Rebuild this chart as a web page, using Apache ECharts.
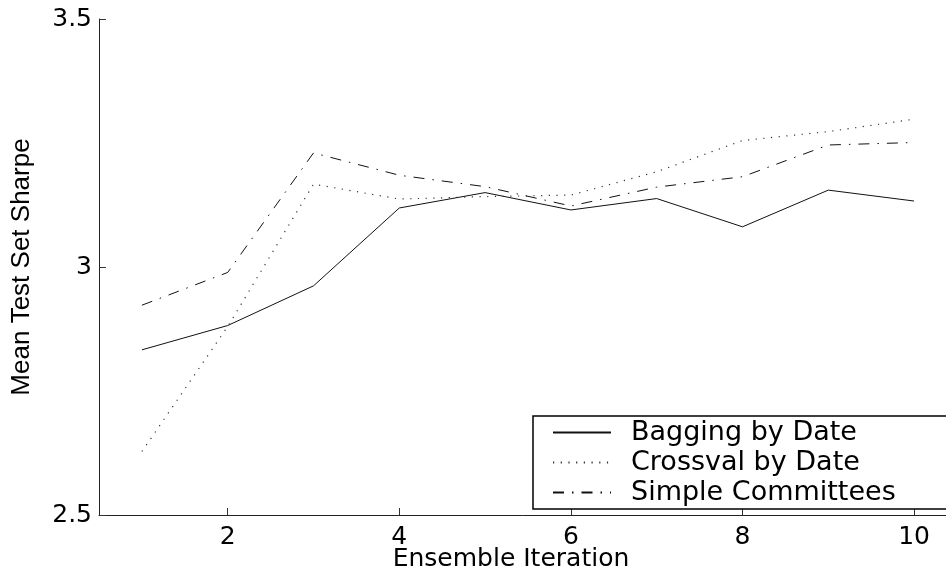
<!DOCTYPE html>
<html>
<head>
<meta charset="utf-8">
<script src="https://cdn.jsdelivr.net/npm/echarts@6/dist/echarts.min.js"></script>
<style>
html,body{margin:0;padding:0;background:#fff;}
#chart{width:946px;height:571px;}
</style>
</head>
<body>
<div id="chart"></div>
<script>
const iterations = [1, 2, 3, 4, 5, 6, 7, 8, 9, 10];
const baggingByDate = [2.833, 2.882, 2.962, 3.119, 3.150, 3.115, 3.138, 3.081, 3.155, 3.133];
const crossvalByDate = [2.628, 2.880, 3.167, 3.137, 3.142, 3.145, 3.192, 3.255, 3.273, 3.298];
const simpleCommittees = [2.923, 2.989, 3.230, 3.185, 3.162, 3.123, 3.161, 3.182, 3.246, 3.251];
const seriesNames = ['Bagging by Date', 'Crossval by Date', 'Simple Committees'];
const xTickValues = [2, 4, 6, 8, 10];
const yTicks = {min: 2.5, max: 3.5, interval: 0.5};

const pairs = arr => iterations.map((x, i) => [x, arr[i]]);
const chart = echarts.init(document.getElementById('chart'));
const tickFont = {fontFamily: 'DejaVu Sans', fontSize: 25, color: '#000'};
chart.setOption({
  animation: false,
  backgroundColor: '#fff',
  grid: {left: 99, top: 19, width: 858, height: 496, containLabel: false, outerBoundsMode: 'none'},
  xAxis: {
    type: 'value', min: 0.5, max: 10.5,
    name: 'Ensemble Iteration', nameLocation: 'middle', nameGap: 32, nameMoveOverlap: false,
    nameTextStyle: {fontFamily: 'DejaVu Sans', fontSize: 25, color: '#000', padding: [0, 34, 0, 0]},
    axisLine: {lineStyle: {color: '#222', width: 1}},
    axisTick: {inside: true, length: 7, customValues: xTickValues, lineStyle: {color: '#333'}},
    axisLabel: Object.assign({customValues: xTickValues, margin: 10}, tickFont),
    splitLine: {show: false}
  },
  yAxis: {
    type: 'value', min: yTicks.min, max: yTicks.max, interval: yTicks.interval,
    name: 'Mean Test Set Sharpe', nameLocation: 'middle', nameGap: 64, nameMoveOverlap: false,
    nameTextStyle: {fontFamily: 'Liberation Sans', fontSize: 26, color: '#000'},
    axisLine: {show: true, lineStyle: {color: '#222', width: 1}},
    axisTick: {show: true, inside: true, length: 7, lineStyle: {color: '#333'}},
    axisLabel: Object.assign({margin: 7}, tickFont),
    splitLine: {show: false}
  },
  legend: {
    left: 533, top: 416, orient: 'vertical',
    itemWidth: 58, itemHeight: 14, itemGap: 3,
    padding: [3, 80, 3, 19],
    borderColor: '#000', borderWidth: 1.5,
    backgroundColor: '#fff',
    itemStyle: {color: 'rgba(0,0,0,0)', borderWidth: 0, opacity: 0},
    textStyle: {fontFamily: 'DejaVu Sans', fontSize: 27, color: '#000', padding: [0, 0, 0, 15]},
    data: seriesNames
  },
  series: [
    {name: seriesNames[0], type: 'line', data: pairs(baggingByDate), symbol: 'none',
     lineStyle: {color: '#111', width: 1, type: 'solid'}, itemStyle: {color: '#111'}},
    {name: seriesNames[1], type: 'line', data: pairs(crossvalByDate), symbol: 'none',
     lineStyle: {color: '#333', width: 1.2, type: [1.2, 6.5]}, itemStyle: {color: '#333'}},
    {name: seriesNames[2], type: 'line', data: pairs(simpleCommittees), symbol: 'none',
     lineStyle: {color: '#111', width: 1, type: [11, 8, 1.5, 8]}, itemStyle: {color: '#111'}}
  ]
});
</script>
</body>
</html>
